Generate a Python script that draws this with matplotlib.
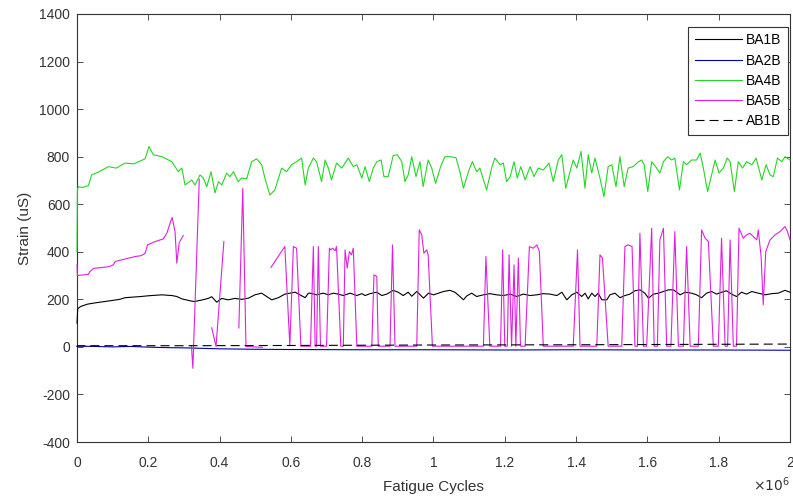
import numpy as np
import matplotlib
matplotlib.use("Agg")
import matplotlib.pyplot as plt

nan = np.nan

# fatigue cycles in millions (scaled to cycles when plotted)
ba1b_x = [0, 0.002, 0.01, 0.03, 0.05, 0.088, 0.12, 0.135, 0.18, 0.2, 0.238, 0.266, 0.28, 0.294,
          0.32, 0.33, 0.35, 0.368, 0.378, 0.392, 0.406, 0.424, 0.443, 0.462, 0.481, 0.499, 0.518,
          0.546, 0.565, 0.583, 0.612, 0.64, 0.649,
          0.654, 0.672, 0.691, 0.705, 0.719, 0.733, 0.747, 0.766, 0.785, 0.799, 0.808, 0.822, 0.841,
          0.855, 0.869, 0.887, 0.901, 0.915, 0.929, 0.939, 0.953, 0.972, 0.986, 1.0, 1.014, 1.028,
          1.046, 1.06, 1.074, 1.084, 1.093, 1.107, 1.121, 1.14, 1.158, 1.177, 1.196, 1.215, 1.233,
          1.252, 1.271, 1.29, 1.308, 1.327,
          1.346, 1.36, 1.374, 1.388, 1.402, 1.416, 1.425, 1.434, 1.444, 1.453, 1.462, 1.472, 1.486,
          1.495, 1.509, 1.523, 1.537, 1.551, 1.565, 1.579, 1.593, 1.603, 1.617, 1.631, 1.645, 1.659,
          1.673, 1.682, 1.692, 1.706, 1.724, 1.738, 1.752, 1.766, 1.78, 1.794, 1.808, 1.822, 1.836,
          1.85, 1.864, 1.878, 1.893, 1.911, 1.93, 1.949, 1.967, 1.986, 2.0]
ba1b_y = [100, 160, 170, 180, 185, 193, 200, 207, 212, 215, 219, 216, 212, 202,
          193, 191, 197, 204, 211, 188, 204, 198, 204, 200, 205, 219, 226,
          198, 207, 222, 230, 207, 226,
          226, 219, 226, 219, 226, 222, 216, 226, 216, 224, 216, 224, 230,
          216, 222, 238, 230, 216, 230, 213, 233, 205, 226, 219, 226, 233,
          238, 230, 212, 198, 214, 226, 212, 219, 224, 219, 216, 222, 212,
          222, 216, 219, 224, 222,
          216, 230, 198, 219, 230, 212, 226, 202, 226, 212, 226, 198, 198,
          219, 226, 207, 216, 222, 236, 240, 226, 205, 222, 226, 233, 240,
          240, 230, 219, 230, 226, 219, 207, 226, 233, 222, 230, 236, 222,
          212, 230, 222, 233, 226, 219, 224, 226, 238, 230]

ba2b_x = [0, 0.05, 0.1, 0.15, 0.2, 0.25, 0.3, 0.35, 0.4, 0.5, 0.6, 0.8, 1.0, 1.2, 1.4, 1.6, 1.8, 2.0]
ba2b_y = [3, 2, 0, 2, -1, -3, -4, -6, -8, -10, -11, -12, -12, -13, -12, -13, -13, -14]

ba4b_x = [0, 0.001, 0.004, 0.015, 0.032, 0.041, 0.06, 0.088, 0.11, 0.135, 0.16, 0.191, 0.202, 0.214,
          0.238, 0.266, 0.284, 0.294, 0.303, 0.322, 0.331, 0.345, 0.354, 0.364, 0.376, 0.387, 0.397,
          0.406, 0.42, 0.429, 0.439, 0.452, 0.462, 0.476, 0.49, 0.504, 0.518, 0.527, 0.541, 0.555,
          0.574, 0.588, 0.602, 0.616, 0.63, 0.64, 0.649,
          0.663, 0.672, 0.686, 0.696, 0.705, 0.714, 0.728, 0.743, 0.761, 0.775, 0.785, 0.799, 0.808,
          0.82, 0.831, 0.841, 0.853, 0.861, 0.873, 0.887, 0.899, 0.911, 0.92, 0.929, 0.939, 0.951,
          0.962, 0.971, 0.985, 0.995, 1.006, 1.02, 1.032, 1.046, 1.063, 1.074, 1.084, 1.098, 1.109,
          1.121, 1.13, 1.149, 1.163, 1.172, 1.187, 1.196, 1.205, 1.215, 1.226, 1.235, 1.245, 1.257,
          1.271, 1.282, 1.294, 1.308,
          1.324, 1.336, 1.35, 1.36, 1.371, 1.383, 1.392, 1.402, 1.414, 1.425, 1.434, 1.444, 1.453,
          1.467, 1.478, 1.49, 1.5, 1.512, 1.523, 1.535, 1.546, 1.56, 1.575, 1.584, 1.591, 1.601,
          1.612, 1.626, 1.635, 1.645, 1.657, 1.668, 1.677, 1.69, 1.701, 1.71, 1.724, 1.738, 1.748,
          1.757, 1.769, 1.78, 1.79, 1.801, 1.813, 1.824, 1.832, 1.844, 1.855, 1.867, 1.878, 1.893,
          1.905, 1.921, 1.933, 1.944, 1.953, 1.965, 1.977, 1.986, 2.0]
ba4b_y = [400, 660, 674, 670, 678, 723, 735, 758, 752, 773, 770, 791, 843, 808,
          800, 779, 737, 752, 681, 702, 681, 723, 711, 674, 737, 648, 695,
          681, 731, 716, 737, 695, 710, 707, 779, 791, 766, 710, 639, 660,
          752, 737, 766, 779, 794, 681, 752,
          794, 779, 695, 786, 752, 702, 773, 752, 794, 758, 766, 710, 758,
          695, 752, 779, 786, 716, 716, 805, 808, 779, 695, 723, 800, 716,
          779, 674, 786, 752, 688, 758, 800, 800, 796, 737, 667, 737, 779,
          737, 752, 660, 752, 794, 766, 773, 695, 716, 779, 710, 758, 702,
          758, 716, 752, 744,
          773, 695, 786, 808, 667, 737, 786, 752, 822, 667, 808, 731, 794,
          710, 632, 758, 766, 674, 800, 674, 752, 758, 779, 786, 766, 653,
          779, 752, 731, 779, 800, 786, 794, 660, 779, 766, 786, 786, 815,
          752, 653, 723, 786, 731, 752, 794, 779, 653, 779, 752, 779, 766,
          794, 702, 766, 723, 716, 794, 779, 800, 786]

ba5b_x = [0, 0.001, 0.012, 0.032, 0.036, 0.046, 0.088, 0.102, 0.107, 0.125, 0.144, 0.163, 0.181,
          0.191, 0.198, 0.219, 0.242, 0.252, 0.261, 0.267, 0.275, 0.28, 0.287, 0.288, 0.289, 0.298,
          0.31,
          0.321, 0.325, 0.343, 0.35,
          0.378, 0.39, 0.412, 0.42,
          0.454, 0.465, 0.474, 0.52, 0.53,
          0.544, 0.583, 0.597, 0.607, 0.616, 0.628, 0.655, 0.663, 0.668, 0.672, 0.677, 0.683, 0.7,
          0.708, 0.712, 0.717, 0.724, 0.728, 0.74, 0.747, 0.752, 0.758, 0.764, 0.77, 0.775, 0.785,
          0.827, 0.833, 0.841, 0.845, 0.878, 0.885, 0.892, 0.953, 0.96, 0.967, 0.973, 0.981, 0.985,
          0.997, 1.14, 1.147, 1.158, 1.188, 1.194, 1.2, 1.207, 1.212, 1.219, 1.226, 1.231, 1.238,
          1.244, 1.257, 1.269, 1.28, 1.29, 1.297, 1.308, 1.392, 1.404, 1.411, 1.458, 1.467, 1.474,
          1.49, 1.528, 1.537, 1.546, 1.557, 1.565, 1.572, 1.579, 1.589, 1.598, 1.612, 1.619, 1.628,
          1.635, 1.645, 1.654, 1.666, 1.677, 1.687, 1.701, 1.71, 1.72, 1.743, 1.752, 1.762, 1.771,
          1.785, 1.799, 1.808, 1.818, 1.825, 1.832, 1.841, 1.85, 1.857, 1.869, 1.878, 1.888, 1.897,
          1.907, 1.911, 1.919, 1.925, 1.932, 1.944, 1.958, 1.972, 1.986, 1.993, 2.0]
ba5b_y = [345, 300, 302, 305, 316, 330, 337, 345, 359, 366, 373, 380, 384,
          394, 429, 443, 454, 478, 520, 544, 485, 352, 440, nan, 445, 468,
          nan,
          5, -90, 705, nan,
          80, 2, 443, nan,
          80, 667, 2, -2, nan,
          334, 422, 5, 422, 415, 3, 3, 422, 3, 3, 422, 3, 3,
          415, 408, 415, 405, 422, 3, 3, 408, 331, 401, 387, 415, 3,
          3, 303, 296, 3, 3, 429, 3, 3, 492, 471, 394, 408, 387,
          3, 3, 380, 3, 3, 408, 3, 3, 387, 3, 345, 3, 373,
          3, 3, 422, 415, 429, 401, 3, 3, 408, 3, 3, 387, 373,
          3, 3, 422, 429, 422, 3, 3, 478, 3, 3, 499, 3, 3,
          450, 499, 3, 3, 485, 3, 3, 422, 3, 3, 492, 457, 443,
          3, 3, 457, 3, 3, 450, 3, 3, 499, 457, 471, 478, 464,
          450, 492, 380, 177, 401, 450, 471, 485, 506, 485, 450]

ab1b_x = [0, 0.002, 0.3, 0.6, 1.0, 1.4, 1.8, 2.0]
ab1b_y = [0, 5, 5, 6, 8, 9, 11, 12]

plt.rcParams['font.family'] = ['Liberation Sans', 'DejaVu Sans']
plt.rcParams['lines.scale_dashes'] = False
plt.rcParams['axes.unicode_minus'] = False
axcol = '#333333'

fig = plt.figure(figsize=(7.93, 4.98), dpi=100)
ax = fig.add_axes([0.0971, 0.1124, 0.8991, 0.8595])

# lines drawn over the frame, like the MATLAB original
lw = 0.8
kw = dict(lw=lw, zorder=3, clip_on=False)
ax.plot(np.array(ba1b_x) * 1e6, ba1b_y, color='k', label='BA1B', **kw)
ax.plot(np.array(ba2b_x) * 1e6, ba2b_y, color='#0000b0', label='BA2B', **kw)
ax.plot(np.array(ba4b_x) * 1e6, ba4b_y, color='#22d822', label='BA4B', **kw)
ax.plot(np.array(ba5b_x) * 1e6, ba5b_y, color='#e020e0', label='BA5B', **kw)
ax.plot(np.array(ab1b_x) * 1e6, ab1b_y, color='k', dashes=(6.5, 3.6), label='AB1B', **kw)

ax.set_xlim(0, 2e6)
ax.set_ylim(-400, 1400)
ax.set_xticks(np.arange(0, 2.01e6, 0.2e6))
ax.set_yticks(np.arange(-400, 1401, 200))
ax.xaxis.set_major_formatter(plt.FuncFormatter(lambda v, p: f"{v / 1e6:g}"))

ax.tick_params(direction='in', length=4, width=0.6, colors=axcol, labelsize=10,
               top=True, right=True)
ax.tick_params(axis='x', pad=10)
ax.tick_params(axis='y', pad=5)
for s in ax.spines.values():
    s.set_color(axcol)
    s.set_linewidth(0.8)

ax.set_xlabel('Fatigue Cycles', fontsize=11, color=axcol, labelpad=7)
ax.set_ylabel('Strain (uS)', fontsize=11, color=axcol, labelpad=5)
ax.text(1.0, -0.115, r'$\times10^{6}$', transform=ax.transAxes, ha='right', va='baseline',
        fontsize=10, color=axcol)

leg = ax.legend(loc='upper right', bbox_to_anchor=(0.997, 0.9696), borderaxespad=0,
                fancybox=False, framealpha=1, edgecolor=axcol, fontsize=10,
                handlelength=3.4, handletextpad=0.3, labelspacing=0.45, borderpad=0.45)
leg.get_frame().set_linewidth(0.8)
leg.set_zorder(5)

fig.savefig("out.png", dpi=100)
